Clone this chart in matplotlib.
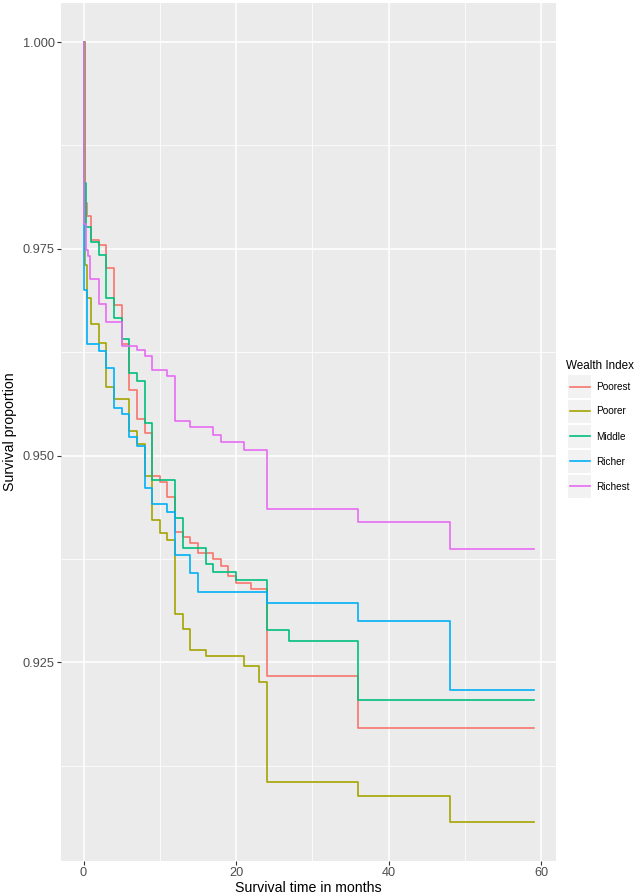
import matplotlib
matplotlib.use("Agg")
import matplotlib.pyplot as plt
from matplotlib.lines import Line2D
from matplotlib.patches import Rectangle
from matplotlib.ticker import MultipleLocator

plt.rcParams['font.family'] = ['Liberation Sans', 'DejaVu Sans']

groups = ["Poorest", "Poorer", "Middle", "Richer", "Richest"]
colors = ["#F8766D", "#A3A500", "#00BF7D", "#00B0F6", "#E76BF3"]

poorest_t = [0, 0.15, 0.45, 1, 2, 3, 4, 5, 6, 7, 8, 9, 10, 11, 12, 13, 14, 15, 17, 18, 19, 20, 22, 24, 36, 59]
poorest_s = [1.0, 0.9805, 0.9790, 0.9761, 0.9755, 0.9727, 0.9682, 0.9635, 0.9579, 0.9544, 0.9527, 0.9475,
             0.9468, 0.9450, 0.9407, 0.9401, 0.9394, 0.9382, 0.9375, 0.9367, 0.9354, 0.9346, 0.9339,
             0.9233, 0.9171, 0.9171]

poorer_t = [0, 0.15, 0.4, 1, 2, 3, 4, 6, 7, 8, 9, 10, 11, 12, 13, 14, 16, 21, 23, 24, 36, 48, 59]
poorer_s = [1.0, 0.9730, 0.9690, 0.9659, 0.9636, 0.9583, 0.9568, 0.9530, 0.9514, 0.9475, 0.9422, 0.9406,
            0.9398, 0.9308, 0.9290, 0.9265, 0.9258, 0.9246, 0.9226, 0.9105, 0.9089, 0.9057, 0.9057]

middle_t = [0, 0.1, 0.35, 1, 2, 3, 4, 5, 6, 7, 8, 9, 12, 13, 16, 17, 20, 24, 27, 36, 59]
middle_s = [1.0, 0.9830, 0.9776, 0.9758, 0.9742, 0.9691, 0.9666, 0.9641, 0.9600, 0.9590, 0.9539, 0.9470,
            0.9425, 0.9388, 0.9369, 0.9359, 0.9349, 0.9289, 0.9276, 0.9204, 0.9204]

richer_t = [0, 0.1, 0.4, 2, 3, 4, 5, 6, 7, 8, 9, 11, 12, 14, 15, 24, 36, 48, 59]
richer_s = [1.0, 0.9700, 0.9635, 0.9626, 0.9606, 0.9558, 0.9550, 0.9522, 0.9511, 0.9461, 0.9442, 0.9432,
            0.9380, 0.9358, 0.9335, 0.9322, 0.9300, 0.9217, 0.9217]

richest_t = [0, 0.1, 0.3, 0.6, 0.9, 2, 3, 5, 7, 8, 9, 11, 12, 14, 17, 18, 21, 24, 36, 48, 59]
richest_s = [1.0, 0.9780, 0.9748, 0.9741, 0.9713, 0.9683, 0.9661, 0.9633, 0.9628, 0.9620, 0.9603, 0.9596,
             0.9542, 0.9534, 0.9525, 0.9517, 0.9507, 0.9435, 0.9420, 0.9387, 0.9387]

series = [(poorest_t, poorest_s), (poorer_t, poorer_s), (middle_t, middle_s),
          (richer_t, richer_s), (richest_t, richest_s)]

x_ticks = [0, 20, 40, 60]
y_ticks = [0.925, 0.950, 0.975, 1.000]
y_ticklabels = ["0.925", "0.950", "0.975", "1.000"]

W, H = 638, 896
fig = plt.figure(figsize=(W / 100, H / 100), dpi=100)
fig.patch.set_facecolor("white")

left, right, top, bottom = 61, 556, 3, 861
ax = fig.add_axes([left / W, 1 - bottom / H, (right - left) / W, (bottom - top) / H])
ax.set_facecolor("#EBEBEB")

for (t, s), c in zip(series, colors):
    ax.step(t, s, where="post", color=c, lw=1.2, zorder=3)

ax.margins(x=0.05, y=0.05)

ax.set_xticks(x_ticks)
ax.set_yticks(y_ticks)
ax.set_yticklabels(y_ticklabels)
ax.xaxis.set_minor_locator(MultipleLocator(10))
ax.yaxis.set_minor_locator(MultipleLocator(0.0125))
ax.grid(which="major", color="white", lw=1.1, zorder=1)
ax.grid(which="minor", color="white", lw=0.55, zorder=1)
ax.set_axisbelow(True)
for sp in ax.spines.values():
    sp.set_visible(False)
ax.tick_params(which="major", length=3.0, width=0.8, color="#333333", labelcolor="#4D4D4D",
               labelsize=9.2, pad=1.5)
ax.tick_params(which="minor", length=0)

ax.set_xlabel("Survival time in months", fontsize=10.2, color="black", labelpad=1)
ax.set_ylabel("Survival proportion", fontsize=10.2, color="black", labelpad=4)

# Legend (drawn manually in pixel coordinates)
def fx(px):
    return px / W

def fy(py):
    return 1 - py / H

fig.text(fx(566), fy(366), "Wealth Index", fontsize=8.4, color="black", va="center", ha="left")
key_w = 23
key_tops = [375, 400, 425, 450, 475]
for name, c, kt in zip(groups, colors, key_tops):
    fig.add_artist(Rectangle((fx(568), fy(kt + key_w)), key_w / W, key_w / H,
                             transform=fig.transFigure, facecolor="#F2F2F2", edgecolor="none"))
    yc = kt + key_w / 2
    fig.add_artist(Line2D([fx(570), fx(590)], [fy(yc), fy(yc)], transform=fig.transFigure,
                          color=c, lw=1.2))
    fig.text(fx(596), fy(yc), name, fontsize=7.2, color="black", va="center", ha="left")

fig.savefig("out.png", dpi=100)
